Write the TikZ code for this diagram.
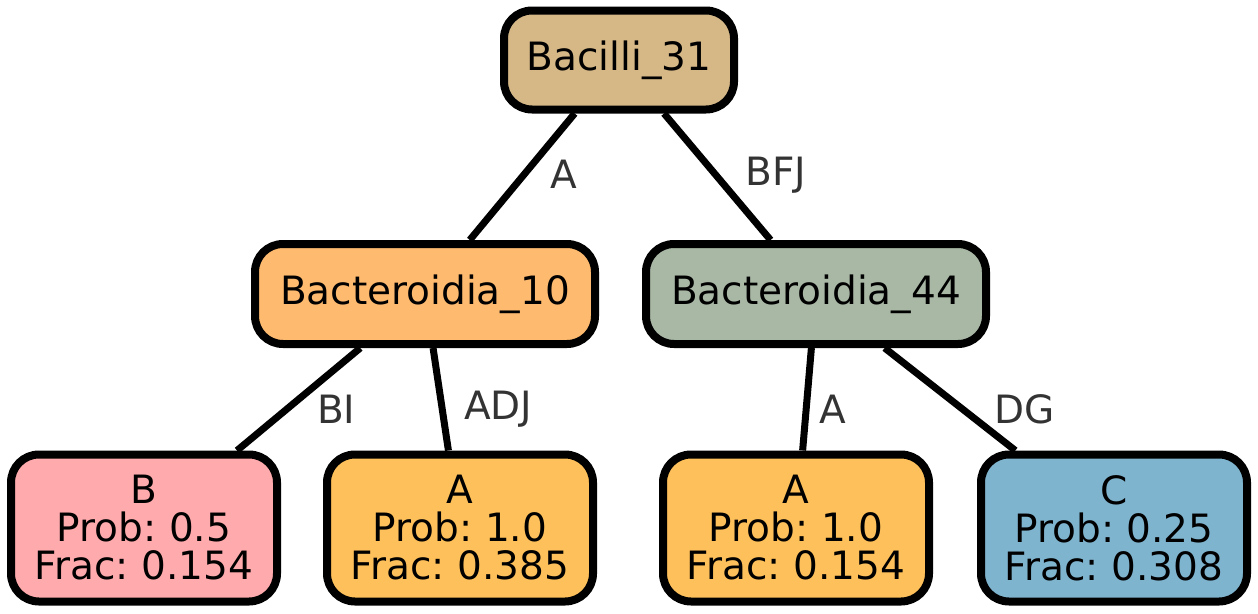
\documentclass[tikz,border=0pt]{standalone}
\usepackage{fontspec}
\setmainfont{DejaVu Sans}
\usepackage{tikz}
\frenchspacing

\definecolor{bacilli}{HTML}{D6B887}
\definecolor{bacteroidiaA}{HTML}{FEBA6F}
\definecolor{bacteroidiaB}{HTML}{A9B7A5}
\definecolor{leafB}{HTML}{FFAAAD}
\definecolor{leafA}{HTML}{FEC05A}
\definecolor{leafC}{HTML}{7FB4CF}
\definecolor{labelgray}{HTML}{333333}

\begin{document}
\begin{tikzpicture}[
    x=1pt, y=-1pt,
    every node/.style={font=\fontsize{39}{38}\selectfont},
    box/.style={draw, line width=8pt, rounded corners=28pt, inner sep=0pt, align=center},
    rootbox/.style={box, minimum width=230pt, minimum height=99pt},
    midbox/.style={box, minimum width=340pt, minimum height=100pt},
    leafbox/.style={box, minimum width=266pt, minimum height=147pt},
    lbl/.style={text=labelgray, inner sep=0pt},
    link/.style={line width=7pt}
]
\useasboundingbox (0,0) rectangle (1258,613);

\node[rootbox, fill=bacilli] (root) at (619,60) {Bacilli\_31};
\node[midbox, fill=bacteroidiaA] (bact10) at (425,294) {Bacteroidia\_10};
\node[midbox, fill=bacteroidiaB] (bact44) at (816,294) {Bacteroidia\_44};
\node[leafbox, fill=leafB] (leafb) at (144,528) {B\\Prob: 0.5\\Frac: 0.154};
\node[leafbox, fill=leafA] (leafa1) at (460,528) {A\\Prob: 1.0\\Frac: 0.385};
\node[leafbox, fill=leafA] (leafa2) at (796,528) {A\\Prob: 1.0\\Frac: 0.154};
\node[leafbox, fill=leafC] (leafc) at (1114,528) {C\\Prob: 0.25\\Frac: 0.308};

\draw[link] (root) -- node[lbl, right=25pt, yshift=2pt] {A} (bact10);
\draw[link] (root) -- node[lbl, right=25pt, yshift=2pt] {BFJ} (bact44);
\draw[link] (bact10) -- node[lbl, right=15pt, yshift=-10pt] {BI} (leafb);
\draw[link] (bact10) -- node[lbl, right=20pt, yshift=-10pt] {ADJ} (leafa1);
\draw[link] (bact44) -- node[lbl, right=9pt, yshift=-10pt] {A} (leafa2);
\draw[link] (bact44) -- node[lbl, right=41pt, yshift=-10pt] {DG} (leafc);
\end{tikzpicture}
\end{document}
